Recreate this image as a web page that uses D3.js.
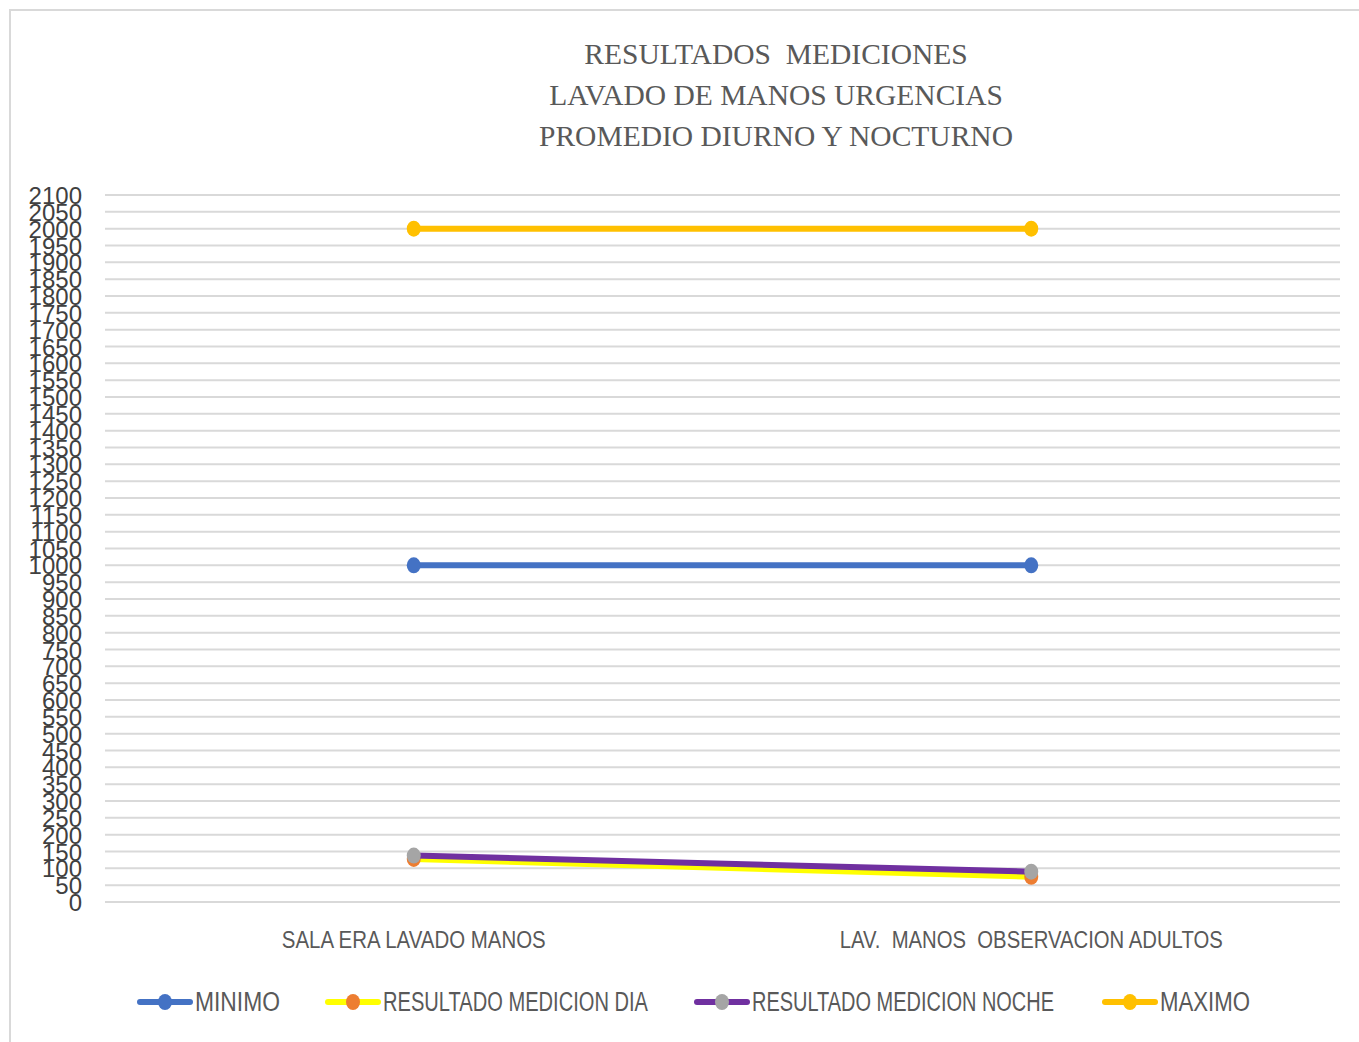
<!DOCTYPE html>
<html><head><meta charset="utf-8">
<script src="https://cdn.jsdelivr.net/npm/d3@7"></script>
<style>body{margin:0;background:#fff}</style>
</head><body>
<svg id="c" width="1359" height="1042"></svg>
<script>
const categories = ["SALA ERA LAVADO MANOS", "LAV.  MANOS  OBSERVACION ADULTOS"];
const minimo = [1000, 1000];
const dia = [128, 75];
const noche = [138, 90];
const maximo = [2000, 2000];
const titleLines = ["RESULTADOS  MEDICIONES", "LAVADO DE MANOS URGENCIAS", "PROMEDIO DIURNO Y NOCTURNO"];
const yTicks = d3.range(0, 2101, 50);

const series = [
  {name: "MINIMO", values: minimo, line: "#4472C4", marker: "#4472C4"},
  {name: "RESULTADO MEDICION DIA", values: dia, line: "#FFFF00", marker: "#ED7D31"},
  {name: "RESULTADO MEDICION NOCHE", values: noche, line: "#7030A0", marker: "#A5A5A5"},
  {name: "MAXIMO", values: maximo, line: "#FFC000", marker: "#FFC000"}
];

const svg = d3.select("#c");
svg.append("rect").attr("x", 10).attr("y", 10).attr("width", 1360).attr("height", 1040)
  .attr("fill", "#fff").attr("stroke", "#d9d9d9").attr("stroke-width", 2);

const x = d3.scaleBand().domain(categories).range([105, 1340]);
const y = d3.scaleLinear().domain([0, 2100]).range([902, 195]);

// title
svg.append("g").selectAll("text").data(titleLines).join("text")
  .attr("x", 776).attr("y", (d, i) => 64 + i * 41)
  .attr("text-anchor", "middle").attr("font-family", "Liberation Serif, Times New Roman, serif")
  .attr("font-size", 29.5).attr("fill", "#595959").style("white-space", "pre").text(d => d);

// grid
svg.append("g").selectAll("line").data(yTicks).join("line")
  .attr("x1", 105).attr("x2", 1340).attr("y1", d => y(d)).attr("y2", d => y(d))
  .attr("stroke", "#d9d9d9").attr("stroke-width", 2);

// y axis
const yAxis = d3.axisLeft(y).tickValues(yTicks).tickSize(0).tickPadding(0).tickFormat(d3.format("d"));
const ga = svg.append("g").attr("transform", "translate(82,0)").call(yAxis);
ga.select(".domain").remove();
ga.selectAll("text").attr("font-family", "Liberation Sans, Arial, sans-serif")
  .attr("font-size", 24).attr("fill", "#404040").attr("dy", "0.36em");

// x axis labels
const xLabelWidths = [264, 383];
const xAxis = d3.axisBottom(x).tickSize(0).tickPadding(0);
const gx = svg.append("g").attr("transform", "translate(0,940)").call(xAxis);
gx.select(".domain").remove();
gx.selectAll("text").attr("font-family", "Liberation Sans, Arial, sans-serif")
  .attr("font-size", 23).attr("fill", "#595959").attr("dy", "0.35em")
  .style("white-space", "pre")
  .attr("textLength", (d, i) => xLabelWidths[i]).attr("lengthAdjust", "spacingAndGlyphs");

// lines
const line = d3.line().x((d, i) => x(categories[i]) + x.bandwidth() / 2).y(d => y(d));
const gs = svg.append("g");
series.forEach(s => {
  gs.append("path").attr("d", line(s.values)).attr("fill", "none")
    .attr("stroke", s.line).attr("stroke-width", 6).attr("stroke-linecap", "round");
  gs.selectAll(null).data(s.values).join("ellipse")
    .attr("cx", (d, i) => x(categories[i]) + x.bandwidth() / 2).attr("cy", d => y(d))
    .attr("rx", 7).attr("ry", 8).attr("fill", s.marker);
});

// legend
const legendX = [137, 325, 694, 1102];
const legendW = [85, 265, 302, 90];
const lg = svg.append("g").attr("transform", "translate(0,1002)");
series.forEach((s, i) => {
  const g = lg.append("g").attr("transform", `translate(${legendX[i]},0)`);
  g.append("line").attr("x1", 3).attr("x2", 53).attr("stroke", s.line).attr("stroke-width", 6).attr("stroke-linecap", "round");
  g.append("ellipse").attr("cx", 28).attr("rx", 7).attr("ry", 8).attr("fill", s.marker);
  g.append("text").attr("x", 58).attr("dy", "0.35em")
    .attr("font-family", "Liberation Sans, Arial, sans-serif")
    .attr("font-size", 27).attr("fill", "#595959")
    .attr("textLength", legendW[i]).attr("lengthAdjust", "spacingAndGlyphs").text(s.name);
});
</script>
</body></html>
